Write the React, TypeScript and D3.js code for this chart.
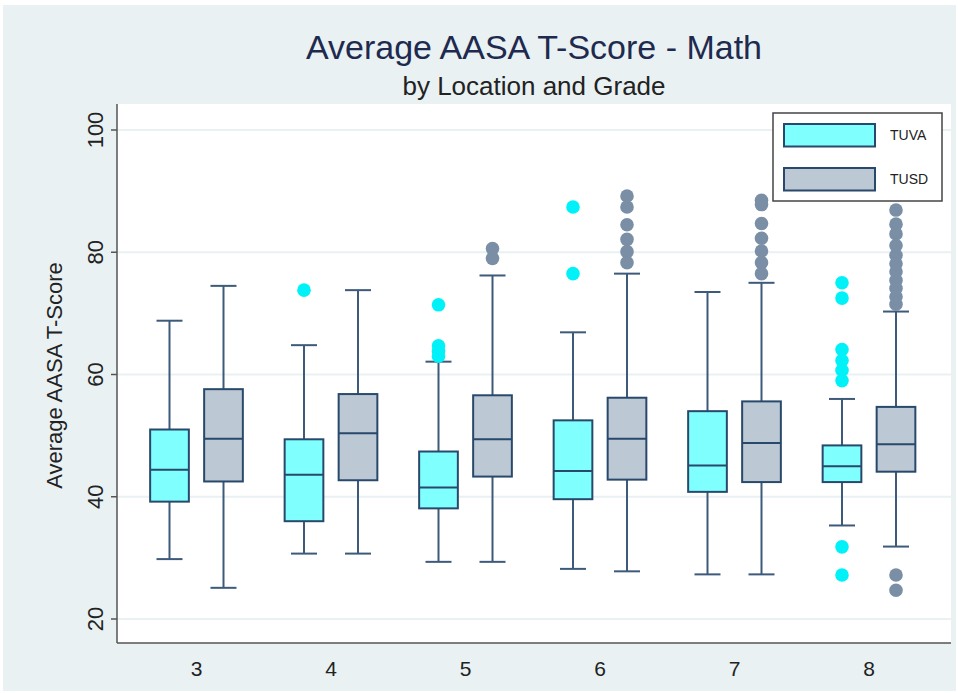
import React from "react";
import * as d3 from "d3";

const grades = [3, 4, 5, 6, 7, 8];
const yTicks = [20, 40, 60, 80, 100];

// [whiskerLow, q1, median, q3, whiskerHigh]
const tuvaStats = [
  [29.8, 39.2, 44.4, 51.0, 68.8],
  [30.7, 36.0, 43.6, 49.4, 64.8],
  [29.35, 38.1, 41.5, 47.4, 62.1],
  [28.2, 39.6, 44.2, 52.5, 66.9],
  [27.3, 40.8, 45.1, 54.0, 73.5],
  [35.3, 42.4, 45.0, 48.4, 56.0],
];
const tusdStats = [
  [25.1, 42.5, 49.5, 57.6, 74.5],
  [30.7, 42.7, 50.4, 56.8, 73.8],
  [29.35, 43.3, 49.4, 56.6, 76.2],
  [27.8, 42.8, 49.5, 56.2, 76.5],
  [27.3, 42.4, 48.8, 55.6, 75.0],
  [31.85, 44.1, 48.6, 54.7, 70.3],
];
const tuvaOutliers = [
  [],
  [73.8],
  [71.4, 64.7, 63.8, 63.0],
  [87.4, 76.5],
  [],
  [75.0, 72.5, 64.1, 62.3, 60.7, 59.0, 31.8, 27.2],
];
const tusdOutliers = [
  [],
  [],
  [80.6, 79.0],
  [89.2, 87.4, 84.5, 82.1, 80.1, 78.3],
  [88.5, 87.8, 84.7, 82.3, 80.2, 78.3, 76.5],
  [86.9, 84.6, 83.0, 81.1, 79.5, 78.1, 76.8, 75.4, 74.1, 72.7, 71.5, 27.2, 24.7],
];
const seriesNames = ["TUVA", "TUSD"];

const W = 958;
const H = 693;
const plot = { left: 117, right: 951, top: 104, bottom: 643 };

const x = d3.scaleLinear().domain([3, 8]).range([196.5, 869]);
const y = d3.scaleLinear().domain([20, 100]).range([619, 130]);

const fills = ["#80ffff", "#bcc8d4"];
const dotFills = ["#00f2f8", "#7a8fa6"];
const strokeC = "#28496b";
const whiskC = "#3d5a7a";
const font = "'Liberation Sans', Arial, sans-serif";

const offset = 27;
const boxW = 38.7;
const capW = 26;

function Box({ cx, stats, outliers, si }: { cx: number; stats: number[]; outliers: number[]; si: number }) {
  const [lo, q1, med, q3, hi] = stats;
  return (
    <g>
      <line x1={cx} x2={cx} y1={y(hi)} y2={y(q3)} stroke={whiskC} strokeWidth={2} />
      <line x1={cx} x2={cx} y1={y(q1)} y2={y(lo)} stroke={whiskC} strokeWidth={2} />
      <line x1={cx - capW / 2} x2={cx + capW / 2} y1={y(hi)} y2={y(hi)} stroke={whiskC} strokeWidth={2} />
      <line x1={cx - capW / 2} x2={cx + capW / 2} y1={y(lo)} y2={y(lo)} stroke={whiskC} strokeWidth={2} />
      <rect x={cx - boxW / 2} y={y(q3)} width={boxW} height={y(q1) - y(q3)} fill={fills[si]} stroke={strokeC} strokeWidth={2} />
      <line x1={cx - boxW / 2} x2={cx + boxW / 2} y1={y(med)} y2={y(med)} stroke={strokeC} strokeWidth={2} />
      {outliers.map((v, i) => (
        <circle key={i} cx={cx} cy={y(v)} r={6.8} fill={dotFills[si]} />
      ))}
    </g>
  );
}

export default function App() {
  return (
    <svg width={W} height={H} style={{ position: "absolute", left: 0, top: 0 }}>
      <rect x={0} y={0} width={W} height={H} fill="#ffffff" />
      <rect x={3} y={5} width={W - 5} height={H - 7} fill="#e9f1f3" />
      <rect x={plot.left} y={plot.top} width={plot.right - plot.left} height={plot.bottom - plot.top} fill="#ffffff" />
      {yTicks.map((t) => (
        <line key={t} x1={plot.left} x2={plot.right} y1={y(t)} y2={y(t)} stroke="#e9f1f3" strokeWidth={2} />
      ))}
      {/* axes */}
      <line x1={plot.left} x2={plot.left} y1={plot.top} y2={plot.bottom} stroke="#555" strokeWidth={1.5} />
      <line x1={plot.left} x2={plot.right} y1={plot.bottom} y2={plot.bottom} stroke="#555" strokeWidth={1.5} />
      {yTicks.map((t) => (
        <g key={t}>
          <line x1={plot.left - 6} x2={plot.left} y1={y(t)} y2={y(t)} stroke="#555" strokeWidth={1.5} />
          <text
            transform={`translate(${plot.left - 14},${y(t)}) rotate(-90)`}
            textAnchor="middle"
            fontFamily={font}
            fontSize={22}
            fill="#222"
          >
            {t}
          </text>
        </g>
      ))}
      {grades.map((g) => (
        <text key={g} x={x(g)} y={676} textAnchor="middle" fontFamily={font} fontSize={21} fill="#222">
          {g}
        </text>
      ))}
      <text
        transform={`translate(62,${y(60) + 1}) rotate(-90)`}
        textAnchor="middle"
        fontFamily={font}
        fontSize={22}
        fill="#222"
      >
        Average AASA T-Score
      </text>
      {/* boxes */}
      {grades.map((g, i) => (
        <g key={g}>
          <Box cx={x(g) - offset} stats={tuvaStats[i]} outliers={tuvaOutliers[i]} si={0} />
          <Box cx={x(g) + offset} stats={tusdStats[i]} outliers={tusdOutliers[i]} si={1} />
        </g>
      ))}
      {/* title */}
      <text x={534} y={59} textAnchor="middle" fontFamily={font} fontSize={34} fill="#1e2a4e">
        Average AASA T-Score - Math
      </text>
      <text x={534} y={95} textAnchor="middle" fontFamily={font} fontSize={26} fill="#222">
        by Location and Grade
      </text>
      {/* legend */}
      <rect x={773} y={113} width={169} height={88} fill="#ffffff" stroke="#444" strokeWidth={1.5} />
      {seriesNames.map((n, i) => (
        <g key={n}>
          <rect x={784} y={124 + i * 44} width={91} height={22.5} fill={fills[i]} stroke={strokeC} strokeWidth={2} />
          <text x={890} y={140 + i * 44} fontFamily={font} fontSize={14} fill="#222">
            {n}
          </text>
        </g>
      ))}
    </svg>
  );
}
